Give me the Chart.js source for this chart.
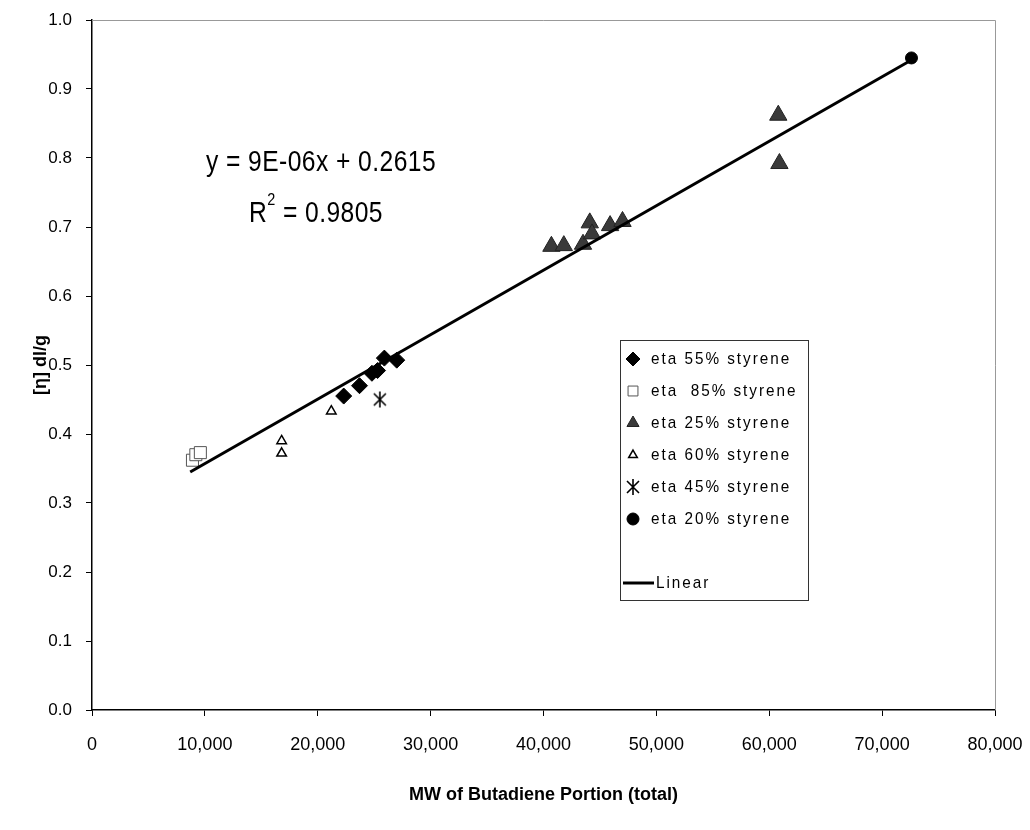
<!DOCTYPE html>
<html lang="en">
<head>
<meta charset="UTF-8">
<title>Intrinsic viscosity vs MW of butadiene portion</title>
<script src="https://cdn.jsdelivr.net/npm/chart.js"></script>
<style>
  body { margin: 0; background: #fff; }
  #wrap { width: 1030px; height: 830px; }
</style>
</head>
<body>
<div id="wrap"><canvas id="grafico" width="1030" height="830"></canvas></div>
<script>
  // values: [MW, eta]
  const eta55 = [[22300, 0.455], [23700, 0.470], [24800, 0.488], [25300, 0.492], [25900, 0.510], [27000, 0.507]];
  const eta85 = [[8900, 0.362], [9200, 0.370], [9600, 0.373]];
  const eta25 = [[40700, 0.672], [41800, 0.673], [43500, 0.675], [44100, 0.706], [44300, 0.690],
                 [45900, 0.702], [47000, 0.708], [60800, 0.862], [60900, 0.792]];
  const eta60 = [[16800, 0.390], [16800, 0.372], [21200, 0.433]];
  const eta45 = [[25500, 0.450]];
  const eta20 = [[72600, 0.945]];
  const linear = [[8700, 0.345], [72600, 0.942]];

  const xTicks = [0, 10000, 20000, 30000, 40000, 50000, 60000, 70000, 80000];
  const yTicks = [0, 0.1, 0.2, 0.3, 0.4, 0.5, 0.6, 0.7, 0.8, 0.9, 1.0];

  const FONT = '"Liberation Sans", Arial, sans-serif';
  const pts = arr => arr.map(p => ({ x: p[0], y: p[1] }));

  // asterisk marker (vertical bar + X)
  const star = document.createElement('canvas');
  star.width = 16; star.height = 18;
  (() => {
    const c = star.getContext('2d');
    c.strokeStyle = '#000'; c.lineWidth = 1.6;
    c.beginPath();
    c.moveTo(8, 1); c.lineTo(8, 17);
    c.moveTo(2, 3); c.lineTo(14, 15);
    c.moveTo(14, 3); c.lineTo(2, 15);
    c.stroke();
  })();

  const series = [
    { label: 'eta 55% styrene', data: pts(eta55), pointStyle: 'rectRot', radius: 8, lr: 7, bg: '#000', border: '#000', bw: 1 },
    { label: 'eta  85% styrene', data: pts(eta85), pointStyle: 'rect', radius: 8.5, lr: 7, bg: '#fff', border: '#555', bw: 1 },
    { label: 'eta 25% styrene', data: pts(eta25), pointStyle: 'triangle', radius: 10, lr: 7, bg: '#3a3a3a', border: '#222', bw: 1 },
    { label: 'eta 60% styrene', data: pts(eta60), pointStyle: 'triangle', radius: 5.5, lr: 5, bg: '#fff', border: '#000', bw: 1.5 },
    { label: 'eta 45% styrene', data: pts(eta45), pointStyle: star, radius: 8, lr: 7, bg: '#000', border: '#000', bw: 1 },
    { label: 'eta 20% styrene', data: pts(eta20), pointStyle: 'circle', radius: 6, lr: 6, bg: '#000', border: '#000', bw: 1 }
  ];

  const datasets = series.map(s => ({
    label: s.label,
    data: s.data,
    showLine: false,
    pointStyle: s.pointStyle,
    pointRadius: s.radius,
    pointBackgroundColor: s.bg,
    pointBorderColor: s.border,
    pointBorderWidth: s.bw
  }));
  datasets.unshift({
    label: 'Linear',
    data: pts(linear),
    showLine: true,
    borderColor: '#000',
    borderWidth: 3,
    pointRadius: 0
  });

  // draws text squeezed horizontally, to mimic the narrow face of the original
  function narrowText(ctx, text, x, y, sx, align) {
    const w = ctx.measureText(text).width * sx;
    let left = x;
    if (align === 'center') left = x - w / 2;
    ctx.save();
    ctx.translate(left, y);
    ctx.scale(sx, 1);
    ctx.textAlign = 'left';
    ctx.fillText(text, 0, 0);
    ctx.restore();
    return w;
  }

  const extras = {
    id: 'extras',
    afterDraw(chart) {
      const ctx = chart.ctx;
      const a = chart.chartArea;
      ctx.save();
      // top and right frame
      ctx.strokeStyle = '#999';
      ctx.lineWidth = 1;
      ctx.beginPath();
      ctx.moveTo(a.left, a.top + 0.5); ctx.lineTo(a.right + 0.5, a.top + 0.5); ctx.lineTo(a.right + 0.5, a.bottom);
      ctx.stroke();

      // regression text
      ctx.fillStyle = '#000';
      ctx.textBaseline = 'middle';
      ctx.font = '29px ' + FONT;
      if ('letterSpacing' in ctx) ctx.letterSpacing = '0.5px';
      narrowText(ctx, 'y = 9E-06x + 0.2615', 321, 163, 0.85, 'center');
      const sx = 0.85;
      const w1 = ctx.measureText('R').width * sx;
      const w2 = ctx.measureText(' = 0.9805').width * sx;
      ctx.font = '17px ' + FONT;
      const ws = ctx.measureText('2').width * sx;
      const x0 = 316 - (w1 + ws + w2) / 2;
      ctx.font = '29px ' + FONT;
      narrowText(ctx, 'R', x0, 214, sx, 'left');
      narrowText(ctx, ' = 0.9805', x0 + w1 + ws, 214, sx, 'left');
      ctx.font = '17px ' + FONT;
      narrowText(ctx, '2', x0 + w1, 200, sx, 'left');

      // legend box
      const bx = 620, by = 340, bw = 188, bh = 260;
      ctx.strokeStyle = '#333';
      ctx.lineWidth = 1;
      ctx.strokeRect(bx + 0.5, by + 0.5, bw, bh);
      ctx.font = '17px ' + FONT;
      if ('letterSpacing' in ctx) ctx.letterSpacing = '2.2px';
      series.forEach((s, i) => {
        const y = by + 19 + i * 32;
        ctx.fillStyle = s.bg;
        ctx.strokeStyle = s.border;
        ctx.lineWidth = s.bw;
        Chart.helpers.drawPoint(ctx, { pointStyle: s.pointStyle, radius: s.lr, rotation: 0, borderWidth: s.bw }, bx + 13, y);
        ctx.fillStyle = '#000';
        narrowText(ctx, s.label, bx + 31, y, 0.9, 'left');
      });
      ctx.strokeStyle = '#000';
      ctx.lineWidth = 3;
      ctx.beginPath();
      ctx.moveTo(bx + 3, by + 243); ctx.lineTo(bx + 34, by + 243);
      ctx.stroke();
      ctx.fillStyle = '#000';
      narrowText(ctx, 'Linear', bx + 36, by + 243, 0.9, 'left');
      ctx.restore();
    }
  };

  new Chart(document.getElementById('grafico'), {
    type: 'scatter',
    data: { datasets },
    options: {
      responsive: false,
      animation: false,
      layout: { padding: { top: 20, right: 35, bottom: 24, left: 30 } },
      plugins: { legend: { display: false }, tooltip: { enabled: false } },
      scales: {
        x: {
          type: 'linear',
          min: 0, max: 80000,
          afterBuildTicks: s => { s.ticks = xTicks.map(v => ({ value: v })); },
          afterFit: s => { s.height = 96; s.paddingLeft = 0; s.paddingRight = 0; },
          border: { display: true, color: '#000', width: 1.5 },
          grid: { display: true, drawOnChartArea: false, drawTicks: true, tickLength: 6, color: '#000' },
          ticks: {
            color: '#000', padding: 18, maxRotation: 0,
            font: { family: FONT, size: 18 },
            callback: v => v.toLocaleString('en-US')
          },
          title: {
            display: true, text: 'MW of Butadiene Portion (total)', color: '#000',
            font: { family: FONT, size: 18, weight: 'bold' }, padding: { top: 0, bottom: 0 }
          }
        },
        y: {
          type: 'linear',
          min: 0, max: 1,
          afterBuildTicks: s => { s.ticks = yTicks.map(v => ({ value: v })); },
          afterFit: s => { s.width = 62; s.paddingTop = 0; s.paddingBottom = 0; },
          border: { display: true, color: '#000', width: 1.5 },
          grid: { display: true, drawOnChartArea: false, drawTicks: true, tickLength: 6, color: '#000' },
          ticks: {
            color: '#000', padding: 14,
            font: { family: FONT, size: 17 },
            callback: v => v.toFixed(1)
          },
          title: {
            display: true, text: '[η] dl/g', color: '#000',
            font: { family: FONT, size: 18, weight: 'bold' }, padding: { top: 0, bottom: 0 }
          }
        }
      }
    },
    plugins: [extras]
  });
</script>
</body>
</html>
